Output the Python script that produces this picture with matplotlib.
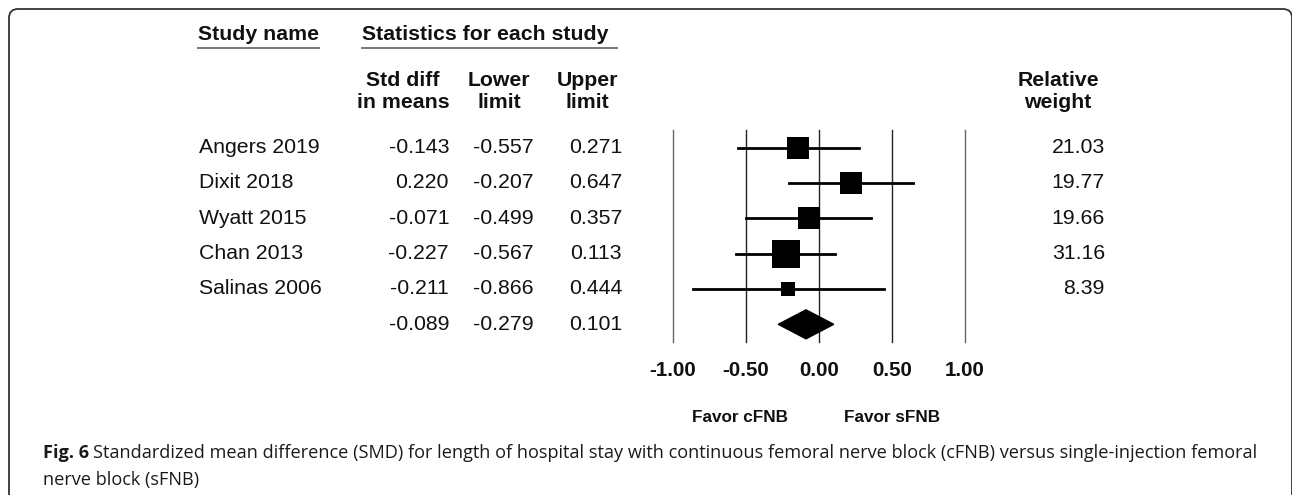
import numpy as np
import matplotlib
matplotlib.use('Agg')
import matplotlib.pyplot as plt
from matplotlib.patches import Polygon, FancyBboxPatch
from matplotlib.lines import Line2D
from matplotlib.transforms import blended_transform_factory, IdentityTransform

# ---- data ----
studies = ['Angers 2019', 'Dixit 2018', 'Wyatt 2015', 'Chan 2013', 'Salinas 2006']
smd = [-0.143, 0.220, -0.071, -0.227, -0.211]
lower = [-0.557, -0.207, -0.499, -0.567, -0.866]
upper = [0.271, 0.647, 0.357, 0.113, 0.444]
weights = [21.03, 19.77, 19.66, 31.16, 8.39]
pooled_smd, pooled_lower, pooled_upper = -0.089, -0.279, 0.101
xticks = [-1.0, -0.5, 0.0, 0.5, 1.0]
favor_labels = ['Favor cFNB', 'Favor sFNB']
caption_bold = 'Fig. 6'
caption_line1 = ('Standardized mean difference (SMD) for length of hospital stay with continuous '
                 'femoral nerve block (cFNB) versus single-injection femoral')
caption_line2 = 'nerve block (sFNB)'

plt.rcParams['font.family'] = ['Liberation Sans', 'DejaVu Sans']

W, H = 1292, 495
fig = plt.figure(figsize=(W / 100, H / 100), dpi=100)
fig.patch.set_facecolor('white')

FS = 15.3
TXT = '#111111'

# forest plot axes (pixel layout of the original)
ax = fig.add_axes([673 / W, 1 - 342 / H, 292 / W, 212 / H])
ax.set_xlim(-1, 1)
ax.set_ylim(5.5, -0.5)
for s in ax.spines.values():
    s.set_visible(False)
ax.set_yticks([])
ax.set_xticks(xticks, [f'{t:.2f}' for t in xticks])
ax.tick_params(axis='x', length=0, pad=13.5, labelsize=14.8, colors=TXT)
for lab in ax.get_xticklabels():
    lab.set_fontweight('bold')

for t in xticks:
    c = '#666666' if abs(t) == 1 else '#222222'
    ax.axvline(t, color=c, lw=1.0, clip_on=False, zorder=1)

rows = np.arange(len(studies))
for i in rows:
    ax.plot([lower[i], upper[i]], [i, i], color='black', lw=2.0, zorder=2)
    side_px = 5 * np.sqrt(weights[i])
    ax.plot(smd[i], i, marker='s', color='black', markersize=side_px * 0.72,
            markeredgewidth=0, zorder=3)

prow = len(studies)
dh = 0.41
diamond = Polygon([[pooled_lower, prow], [pooled_smd, prow - dh],
                   [pooled_upper, prow], [pooled_smd, prow + dh]],
                  closed=True, fc='black', ec='black', zorder=3)
ax.add_patch(diamond)

tr_fav = blended_transform_factory(ax.transData, ax.transAxes)
for xpos, lab in zip([-0.54, 0.5], favor_labels):
    ax.text(xpos, -0.358, lab, transform=tr_fav, ha='center', va='center',
            fontsize=12.3, fontweight='bold', color=TXT)

# ---- table columns ----
tr = blended_transform_factory(fig.transFigure, ax.transData)
for i in rows:
    fig.text(199 / W, i, studies[i], transform=tr, ha='left', va='center', fontsize=FS, color=TXT)
    fig.text(449 / W, i, f'{smd[i]:.3f}', transform=tr, ha='right', va='center', fontsize=FS, color=TXT)
    fig.text(534 / W, i, f'{lower[i]:.3f}', transform=tr, ha='right', va='center', fontsize=FS, color=TXT)
    fig.text(622 / W, i, f'{upper[i]:.3f}', transform=tr, ha='right', va='center', fontsize=FS, color=TXT)
    fig.text(1105 / W, i, f'{weights[i]:.2f}', transform=tr, ha='right', va='center', fontsize=FS, color=TXT)
fig.text(449 / W, prow, f'{pooled_smd:.3f}', transform=tr, ha='right', va='center', fontsize=FS, color=TXT)
fig.text(534 / W, prow, f'{pooled_lower:.3f}', transform=tr, ha='right', va='center', fontsize=FS, color=TXT)
fig.text(622 / W, prow, f'{pooled_upper:.3f}', transform=tr, ha='right', va='center', fontsize=FS, color=TXT)

# ---- headers ----
def ftext(x, y, s, **kw):
    return fig.text(x / W, 1 - y / H, s, fontsize=FS, fontweight='bold', color=TXT, **kw)

ftext(198, 35, 'Study name', ha='left', va='center')
ftext(362, 35, 'Statistics for each study', ha='left', va='center')
for x0, x1 in [(198, 319), (362, 617)]:
    fig.add_artist(Line2D([x0 / W, x1 / W], [1 - 48 / H] * 2, color='#777777', lw=1.4))

ftext(403, 92, 'Std diff\nin means', ha='center', va='center', multialignment='center')
ftext(499, 92, 'Lower\nlimit', ha='center', va='center', multialignment='center')
ftext(587, 92, 'Upper\nlimit', ha='center', va='center', multialignment='center')
ftext(1058, 92, 'Relative\nweight', ha='center', va='center', multialignment='center')

# ---- caption ----
cap_kw = dict(family=['Open Sans', 'DejaVu Sans'], fontsize=13.1, color='#1a1a1a', va='center')
t1 = fig.text(43 / W, 1 - 453 / H, caption_bold, fontweight='bold', **cap_kw)
renderer = fig.canvas.get_renderer()
bb = t1.get_window_extent(renderer)
fig.text((bb.x1 + 4) / W, 1 - 453 / H, caption_line1, **cap_kw)
fig.text(43 / W, 1 - 480 / H, caption_line2, **cap_kw)

# ---- rounded frame (runs off the right and bottom edges) ----
frame = FancyBboxPatch((9, -30), 1283, 516, boxstyle='round,pad=0,rounding_size=9',
                       transform=IdentityTransform(), fill=False, ec='#333333', lw=1.3)
fig.add_artist(frame)

fig.savefig('out.png', dpi=100)
